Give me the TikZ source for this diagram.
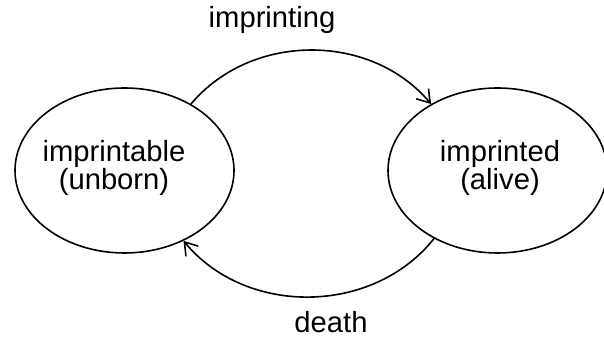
\documentclass[tikz,border=0pt]{standalone}
\usepackage{fontspec}
\setmainfont{Liberation Sans}
\usetikzlibrary{shapes.geometric,arrows.meta}
\begin{document}
\begin{tikzpicture}[x=0.5pt,y=-0.5pt,line join=round,line cap=round,
		state/.style={draw,ellipse,line width=0.8pt,inner sep=0pt,minimum width=109.5pt,minimum height=82.5pt},
		statetext/.style={align=center,inner sep=0pt,font=\fontsize{14.6}{13.8}\selectfont},
		edgetext/.style={inner sep=0pt,font=\fontsize{14.6}{16}\selectfont},
		trans/.style={line width=0.8pt,-{Straight Barb[length=6pt,width=8pt]}}]
	\useasboundingbox (0,0) rectangle (604,340);

	% two states
	\node[state] (unborn) at (124.5,170.5) {};
	\node[state] (alive) at (497.5,170.5) {};
	\node[statetext] (unborntext) at (114,168) {imprintable\\(unborn)};
	\node[statetext] (alivetext) at (500,168) {imprinted\\(alive)};

	% transitions
	\draw[trans] (unborn.45) to[bend left=50] (alive.135);
	\draw[trans] (alive.-133) to[bend left=51] (unborn.-50);

	% labels
	\node[edgetext] (imprinting) at (272,20) {imprinting};
	\node[edgetext] (death) at (331,322) {death};
\end{tikzpicture}
\end{document}
